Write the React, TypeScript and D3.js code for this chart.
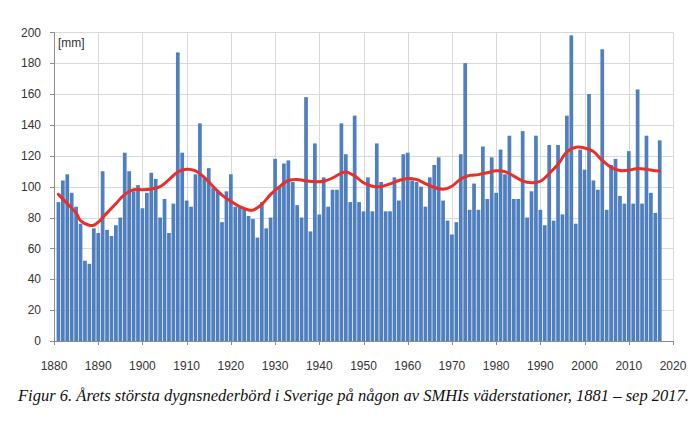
import React from 'react';
import * as d3 from 'd3';

const FIRST_YEAR = 1881;
// Annual max daily precipitation (mm), 1881–2017
const precip = [
  90, 104, 108, 96, 87, 76, 52, 50, 73, 70,
  110, 72, 68, 75, 80, 122, 110, 97, 101, 86,
  96, 109, 105, 80, 92, 70, 89, 187, 122, 91,
  87, 108, 141, 106, 112, 99, 97, 77, 97, 108,
  87, 87, 86, 81, 79, 67, 90, 73, 80, 118,
  100, 115, 117, 103, 88, 80, 158, 71, 128, 82,
  106, 87, 98, 98, 141, 121, 90, 146, 90, 84,
  106, 84, 128, 103, 84, 84, 106, 91, 121, 122,
  104, 103, 100, 87, 106, 114, 119, 91, 78, 69,
  77, 121, 180, 85, 102, 85, 126, 92, 119, 96,
  124, 108, 133, 92, 92, 136, 80, 97, 133, 85,
  75, 127, 78, 127, 82, 146, 198, 76, 124, 111,
  160, 104, 98, 189, 85, 114, 118, 94, 89, 123,
  89, 163, 89, 133, 96, 83, 130,
];
const years = precip.map((_, i) => FIRST_YEAR + i);

// Smoothed trend (red curve)
const trendYears = [
  1881, 1883, 1885, 1886, 1888, 1889, 1890, 1892, 1894, 1896, 1898, 1900, 1902, 1904, 1906, 1908,
  1910, 1912, 1914, 1916, 1918, 1920, 1922, 1924, 1925, 1927, 1929, 1931, 1933, 1935, 1937, 1939,
  1941, 1943, 1945, 1946, 1948, 1950, 1952, 1954, 1956, 1958, 1960, 1962, 1964, 1966, 1968, 1970,
  1972, 1974, 1976, 1978, 1980, 1982, 1984, 1986, 1988, 1990, 1992, 1994, 1996, 1998, 2000, 2002,
  2004, 2006, 2008, 2010, 2012, 2014, 2016, 2017,
];
const trendValues = [
  95, 89, 83, 78, 75, 75, 77, 83, 89, 95, 98, 98, 98.5, 100, 104.5, 109.5,
  111.2, 110.2, 106, 100, 94.5, 90.5, 87, 84.9, 84.8, 88.5, 95, 100, 104, 104.7, 103.8, 103.2,
  103.5, 105.6, 108.8, 109.5, 107, 102.5, 100.3, 100, 101.8, 104, 105.3, 104.6, 102, 99.5, 98.3, 100.3,
  105, 107.3, 107.8, 109, 110.3, 109.7, 106.8, 103.6, 102.6, 103.5, 108.5, 114.5, 122.5, 125.5, 125, 122.7,
  117, 112.5, 110.4, 110.6, 111.8, 111.2, 110.3, 110.2,
];

const yTicks = [0, 20, 40, 60, 80, 100, 120, 140, 160, 180, 200];
const xTicks = [1880, 1890, 1900, 1910, 1920, 1930, 1940, 1950, 1960, 1970, 1980, 1990, 2000, 2010, 2020];
const unitLabel = '[mm]';
const caption = 'Figur 6. Årets största dygnsnederbörd i Sverige på någon av SMHIs väderstationer, 1881 – sep 2017.';

export default function App() {
  const W = 700;
  const H = 424;
  const left = 54;
  const right = 673;
  const top = 32.3;
  const bottom = 341;
  const x = d3.scaleLinear().domain([1880, 2020]).range([left, right]);
  const y = d3.scaleLinear().domain([0, 200]).range([bottom, top]);
  const step = x(1881) - x(1880);
  const bw = step * 0.84;

  const line = d3
    .line<number>()
    .x((_, i) => x(trendYears[i]))
    .y((d) => y(d))
    .curve(d3.curveCatmullRom.alpha(0.5));

  const axisFont = "'Liberation Sans', Arial, sans-serif";

  return (
    <svg
      width={W}
      height={H}
      style={{ position: 'absolute', left: 0, top: 0, background: '#fff' }}
    >
      <rect x={0} y={0} width={W} height={H} fill="#fff" />
      {/* horizontal grid */}
      {yTicks.map((t) => (
        <line
          key={'hg' + t}
          x1={left}
          x2={right}
          y1={Math.round(y(t)) + 0.5}
          y2={Math.round(y(t)) + 0.5}
          stroke={t === 0 ? '#8c8c8c' : '#d9d9d9'}
          strokeWidth={1}
        />
      ))}
      {/* vertical grid */}
      {xTicks.map((t) => (
        <line
          key={'vg' + t}
          x1={Math.round(x(t)) + 0.5}
          x2={Math.round(x(t)) + 0.5}
          y1={top}
          y2={bottom}
          stroke={t === 1880 ? '#8c8c8c' : '#d9d9d9'}
          strokeWidth={1}
        />
      ))}
      {/* bars */}
      {precip.map((v, i) => (
        <rect
          key={'b' + i}
          x={x(years[i]) - bw / 2}
          y={y(v)}
          width={bw}
          height={y(0) - y(v)}
          fill="#4f7fbf"
        />
      ))}
      {/* trend */}
      <path d={line(trendValues) || ''} fill="none" stroke="#e8302a" strokeWidth={3} strokeLinejoin="round" strokeLinecap="round" />
      {/* y ticks */}
      {yTicks.map((t) => (
        <g key={'yt' + t}>
          <line
            x1={left - 4}
            x2={left}
            y1={Math.round(y(t)) + 0.5}
            y2={Math.round(y(t)) + 0.5}
            stroke="#8c8c8c"
          />
          <text
            x={41}
            y={y(t)}
            dy="0.35em"
            textAnchor="end"
            fontFamily={axisFont}
            fontSize={12}
            fill="#333"
          >
            {t}
          </text>
        </g>
      ))}
      {/* x ticks */}
      {xTicks.map((t) => (
        <g key={'xt' + t}>
          <line
            x1={Math.round(x(t)) + 0.5}
            x2={Math.round(x(t)) + 0.5}
            y1={bottom}
            y2={bottom + 4}
            stroke="#8c8c8c"
          />
          <text
            x={x(t)}
            y={370}
            textAnchor="middle"
            fontFamily={axisFont}
            fontSize={12}
            fill="#333"
          >
            {t}
          </text>
        </g>
      ))}
      <text x={58} y={47} fontFamily={axisFont} fontSize={12} fill="#333">
        {unitLabel}
      </text>
      <text
        x={18}
        y={401}
        fontFamily="'Liberation Serif', 'Times New Roman', serif"
        fontStyle="italic"
        fontSize={16}
        fill="#111"
        textLength={671}
        lengthAdjust="spacingAndGlyphs"
      >
        {caption}
      </text>
    </svg>
  );
}
